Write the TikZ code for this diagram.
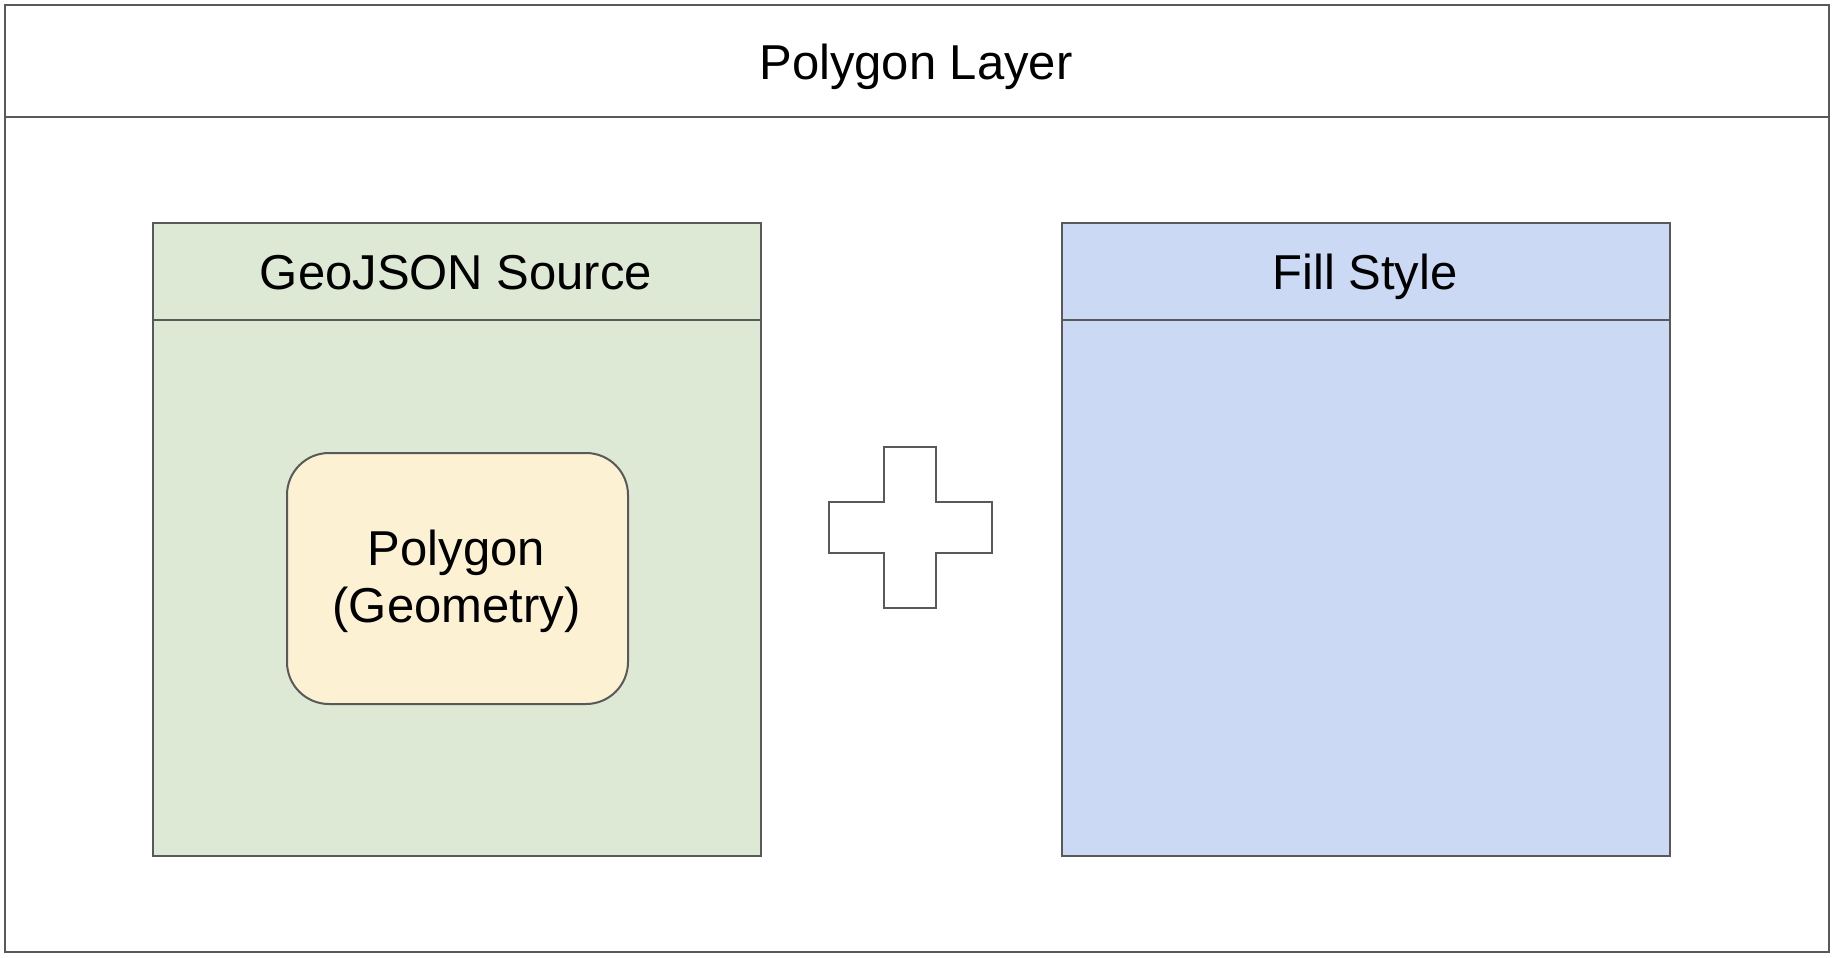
\documentclass[tikz,border=0pt]{standalone}
\usepackage{fontspec}
\setmainfont{Liberation Sans}
\usepackage{xcolor}
\definecolor{edgegray}{HTML}{595959}
\definecolor{srcgreen}{HTML}{DDE8D5}
\definecolor{fillblue}{HTML}{CBD9F4}
\definecolor{geomyellow}{HTML}{FCF1D2}

\tikzset{
  panel/.style={draw=edgegray, line width=2pt, anchor=north west, inner sep=0pt},
  label/.style={font=\fontsize{49}{57}\selectfont, align=center, inner sep=0pt, anchor=base}
}

\begin{document}
\begin{tikzpicture}[x=1pt, y=-1pt]
            \useasboundingbox (0,0) rectangle (1834,958);

            % Outer layer with its header
            \node[panel, minimum width=1824pt, minimum height=947pt] (layer) at (4,4) {};
            \draw[edgegray, line width=2pt] ([yshift=-113pt]layer.north west) -- ([yshift=-113pt]layer.north east);
            \node[label] (layertitle) at (916,80) {Polygon Layer};

            % Source panel
            \node[panel, fill=srcgreen, minimum width=608pt, minimum height=633pt] (source) at (152,222) {};
            \draw[edgegray, line width=2pt] ([yshift=-98pt]source.north west) -- ([yshift=-98pt]source.north east);
            \node[label] (sourcetitle) at (456,289) {GeoJSON Source};

            % Geometry inside the source
            \node[panel, fill=geomyellow, rounded corners=42pt, minimum width=341pt, minimum height=251pt] (geometry) at (286,452) {};
            \node[label] (geomtext) at (456.5,622) {Polygon\\(Geometry)};

            % Style panel
            \node[panel, fill=fillblue, minimum width=608pt, minimum height=633pt] (style) at (1061,222) {};
            \draw[edgegray, line width=2pt] ([yshift=-98pt]style.north west) -- ([yshift=-98pt]style.north east);
            \node[label] (styletitle) at (1365,289) {Fill Style};

            % Plus sign
            \draw[edgegray, line width=2pt, fill=white]
              (884,447) -- (936,447) -- (936,502) -- (992,502) -- (992,553) -- (936,553)
              -- (936,608) -- (884,608) -- (884,553) -- (829,553) -- (829,502) -- (884,502) -- cycle;
\end{tikzpicture}
\end{document}
